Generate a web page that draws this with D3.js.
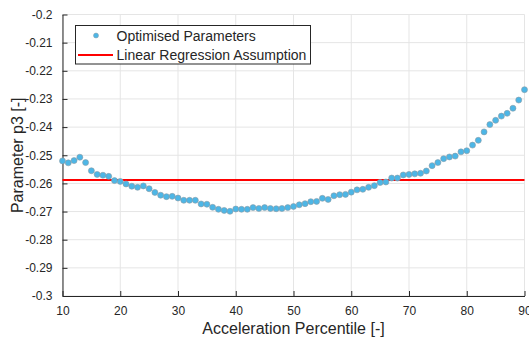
<!DOCTYPE html>
<html>
<head>
<meta charset="utf-8">
<script src="https://cdn.jsdelivr.net/npm/d3@7"></script>
<style>
  html, body { margin: 0; padding: 0; background: #fff; }
  svg { display: block; }
  text { font-family: "Liberation Sans", Arial, sans-serif; fill: #262626; }
</style>
</head>
<body>
<svg id="chart" width="529" height="341"></svg>
<script>
// Acceleration percentile, 10..90 in unit steps
const percentiles = d3.range(10, 91);

// Optimised value of parameter p3 at each percentile
const p3Values = [
  -0.2520, -0.2527, -0.2519, -0.2507, -0.2526, -0.2555, -0.2568, -0.2571, -0.2575, -0.2590,
  -0.2593, -0.2602, -0.2610, -0.2614, -0.2609, -0.2619, -0.2632, -0.2642, -0.2647, -0.2646,
  -0.2652, -0.2660, -0.2660, -0.2660, -0.2673, -0.2674, -0.2685, -0.2692, -0.2696, -0.2699,
  -0.2691, -0.2692, -0.2692, -0.2686, -0.2689, -0.2686, -0.2689, -0.2690, -0.2689, -0.2686,
  -0.2682, -0.2676, -0.2672, -0.2665, -0.2664, -0.2653, -0.2657, -0.2644, -0.2640, -0.2639,
  -0.2631, -0.2623, -0.2621, -0.2614, -0.2608, -0.2597, -0.2595, -0.2581, -0.2581, -0.2570,
  -0.2568, -0.2566, -0.2564, -0.2556, -0.2537, -0.2526, -0.2512, -0.2506, -0.2503, -0.2488,
  -0.2484, -0.2464, -0.2447, -0.2417, -0.2391, -0.2376, -0.2361, -0.2351, -0.2333, -0.2304,
  -0.2267
];

// Constant p3 implied by the linear regression
const regressionValue = -0.2588;

const xTicks = [10, 20, 30, 40, 50, 60, 70, 80, 90];
const yTicks = [-0.2, -0.21, -0.22, -0.23, -0.24, -0.25, -0.26, -0.27, -0.28, -0.29, -0.3];
const seriesNames = ["Optimised Parameters", "Linear Regression Assumption"];
const xLabel = "Acceleration Percentile [-]";
const yLabel = "Parameter p3 [-]";

const svg = d3.select("#chart");
const plotLeft = 62.5, plotRight = 524.5, plotTop = 14.5, plotBottom = 296;

const x = d3.scaleLinear().domain([10, 90]).range([plotLeft, plotRight]);
const y = d3.scaleLinear().domain([-0.3, -0.2]).range([plotBottom, plotTop]);

const axisColor = "#262626";
const gridColor = "#e5e5e5";
const markerFill = "#4db6e6";
const markerEdge = "#8a9aa4";

// grid
const grid = svg.append("g");
grid.selectAll("line.gx").data(xTicks).join("line")
  .attr("x1", d => x(d)).attr("x2", d => x(d))
  .attr("y1", plotTop).attr("y2", plotBottom)
  .attr("stroke", gridColor).attr("stroke-width", 1);
grid.selectAll("line.gy").data(yTicks).join("line")
  .attr("x1", plotLeft).attr("x2", plotRight)
  .attr("y1", d => y(d)).attr("y2", d => y(d))
  .attr("stroke", gridColor).attr("stroke-width", 1);

// axes with inward ticks
const xAxis = d3.axisBottom(x).tickValues(xTicks).tickFormat(d3.format("d"))
  .tickSizeInner(-5).tickSizeOuter(0).tickPadding(10);
const yAxis = d3.axisLeft(y).tickValues(yTicks).tickFormat(d => String(+d.toFixed(2)))
  .tickSizeInner(-5).tickSizeOuter(0).tickPadding(10);

const gx = svg.append("g").attr("transform", `translate(0,${plotBottom})`).call(xAxis);
const gy = svg.append("g").attr("transform", `translate(${plotLeft},0)`).call(yAxis);
[gx, gy].forEach(g => {
  g.select(".domain").attr("stroke", axisColor).attr("stroke-width", 1);
  g.selectAll(".tick line").attr("stroke", axisColor);
  g.selectAll(".tick text").attr("fill", axisColor)
    .style("font-family", '"Liberation Sans", Arial, sans-serif').style("font-size", "12px");
});

// regression line
svg.append("line")
  .attr("x1", x(10)).attr("x2", x(90))
  .attr("y1", y(regressionValue)).attr("y2", y(regressionValue))
  .attr("stroke", "#ff0000").attr("stroke-width", 2);

// optimised points
svg.append("g").selectAll("circle").data(percentiles).join("circle")
  .attr("cx", (d) => x(d))
  .attr("cy", (d, i) => y(p3Values[i]))
  .attr("r", 3)
  .attr("fill", markerFill)
  .attr("stroke", markerEdge)
  .attr("stroke-width", 0.6);

// axis titles
svg.append("text")
  .attr("x", (plotLeft + plotRight) / 2).attr("y", 334)
  .attr("text-anchor", "middle").style("font-size", "16px")
  .text(xLabel);
svg.append("text")
  .attr("transform", `translate(23,${(plotTop + plotBottom) / 2}) rotate(-90)`)
  .attr("text-anchor", "middle").style("font-size", "16px")
  .text(yLabel);

// legend
const lg = svg.append("g");
lg.append("rect")
  .attr("x", 75.5).attr("y", 25.5).attr("width", 235).attr("height", 38.5)
  .attr("fill", "#fff").attr("stroke", axisColor).attr("stroke-width", 1);
lg.append("circle").attr("cx", 96).attr("cy", 35.5).attr("r", 2.5)
  .attr("fill", markerFill).attr("stroke", markerEdge).attr("stroke-width", 0.5);
lg.append("line").attr("x1", 78).attr("x2", 113).attr("y1", 55).attr("y2", 55)
  .attr("stroke", "#ff0000").attr("stroke-width", 2);
lg.selectAll("text").data(seriesNames).join("text")
  .attr("x", 116.5).attr("y", (d, i) => 40.5 + i * 19)
  .style("font-size", "14px")
  .text(d => d);
</script>
</body>
</html>
